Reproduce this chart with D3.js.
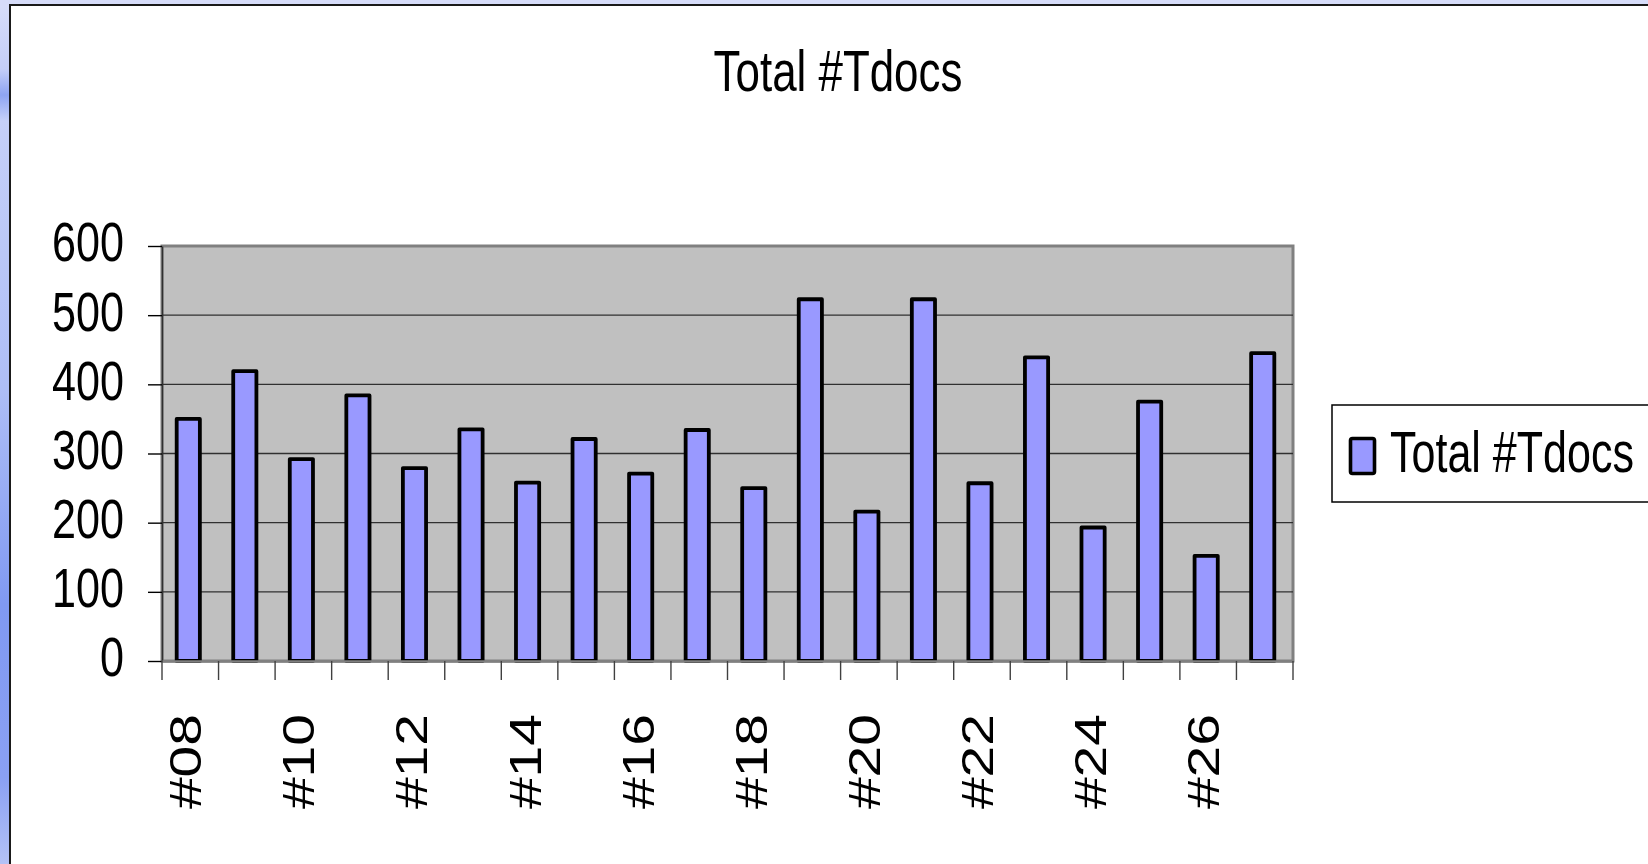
<!DOCTYPE html>
<html>
<head>
<meta charset="utf-8">
<script src="https://cdn.jsdelivr.net/npm/d3@7"></script>
<style>
  html, body { margin: 0; padding: 0; background: #ffffff; overflow: hidden; }
  svg { display: block; font-family: "Liberation Sans", Arial, sans-serif; }
</style>
</head>
<body>
<svg id="chart" width="1648" height="864"></svg>
<script>
const categories = ['#08', '#09', '#10', '#11', '#12', '#13', '#14', '#15', '#16', '#17',
                    '#18', '#19', '#20', '#21', '#22', '#23', '#24', '#25', '#26', '#27']
const totals = [350, 419, 292, 384, 279, 335, 258, 321, 271, 334,
                250, 523, 216, 523, 257, 439, 193, 375, 152, 445]
const yTicks = [0, 100, 200, 300, 400, 500, 600]
const chartTitle = 'Total #Tdocs'
const seriesName = 'Total #Tdocs'

const plot = { left: 162, right: 1293, top: 246, bottom: 661 }
const squash = 0.77   // the original picture is narrower than it is tall

const svg = d3.select('#chart')

const xscale = d3.scaleBand()
    .domain(categories)
    .range([plot.left, plot.right])
    .padding(0)

const yscale = d3.scaleLinear()
    .domain([0, 600])
    .range([plot.bottom, plot.top])

const addBackground = () => {
    const grad = svg.append('defs').append('linearGradient')
        .attr('id', 'slideBg')
        .attr('x1', 0).attr('y1', 0).attr('x2', 0).attr('y2', 1)
    const stops = [[0, '#d8def9'], [0.08, '#c4cef8'], [0.11, '#8ea4f2'], [0.14, '#c6d0f8'],
                   [0.45, '#aebef6'], [0.7, '#8099f2'], [0.9, '#8aa0f3'], [1, '#b4c2f6']]
    stops.forEach(s => grad.append('stop').attr('offset', s[0]).attr('stop-color', s[1]))

    svg.append('rect')
        .attr('width', 1648).attr('height', 864)
        .attr('fill', 'url(#slideBg)')
    svg.append('rect')
        .attr('x', 0).attr('y', 0).attr('width', 1648).attr('height', 6)
        .attr('fill', '#d6dcf9')

    // chart frame
    svg.append('rect')
        .attr('x', 10).attr('y', 5)
        .attr('width', 1700).attr('height', 900)
        .attr('fill', '#ffffff')
        .style('stroke', '#1a1a1a')
        .style('stroke-width', 2)
}

const addPlotArea = () => {
    svg.append('rect')
        .attr('x', plot.left).attr('y', plot.top)
        .attr('width', plot.right - plot.left)
        .attr('height', plot.bottom - plot.top)
        .attr('fill', '#c0c0c0')
        .style('stroke', '#808080')
        .style('stroke-width', 3)
}

const addGridLines = () => {
    svg.append('g')
        .selectAll('line')
        .data(yTicks.filter(d => d > 0 && d < 600))
        .join('line')
        .attr('x1', plot.left).attr('x2', plot.right)
        .attr('y1', d => yscale(d)).attr('y2', d => yscale(d))
        .style('stroke', '#303030')
        .style('stroke-width', 1.4)
}

const addBars = () => {
    const bw = xscale.bandwidth() * 0.41
    svg.append('g')
        .selectAll('rect')
        .data(totals)
        .join('rect')
        .attr('x', (d, i) => xscale(categories[i]) + (xscale.bandwidth() - bw) / 2 - 2)
        .attr('y', d => yscale(d))
        .attr('width', bw)
        .attr('height', d => yscale(0) - yscale(d))
        .attr('fill', '#9999ff')
        .style('stroke', '#000000')
        .style('stroke-width', 3.8)
        .style('stroke-linejoin', 'round')
}

const addAxes = () => {
    //yscale
    const yAxis = d3.axisLeft(yscale)
        .tickValues(yTicks)
        .tickSize(14)
        .tickSizeOuter(0)

    const gy = svg.append('g')
        .attr('transform', `translate(${plot.left}, 0)`)
        .call(yAxis)
    gy.select('.domain').style('stroke', '#303030').style('stroke-width', 1.5)
    gy.selectAll('.tick line').style('stroke', '#000').style('stroke-width', 1.4)
    gy.selectAll('.tick text')
        .attr('x', null)
        .attr('dy', '0.32em')
        .attr('transform', `translate(-38, -3) scale(${squash}, 1)`)
        .attr('fill', '#000')
        .style('font-size', '56px')
        .style('font-family', '"Liberation Sans", Arial, sans-serif')

    //xscale: ticks sit on the category boundaries
    const xAxis = d3.axisBottom(xscale)
        .tickSize(0)
        .tickFormat((d, i) => i % 2 === 0 ? d : '')

    const gx = svg.append('g')
        .attr('transform', `translate(0, ${plot.bottom})`)
        .call(xAxis)
    gx.select('.domain').style('stroke', '#808080').style('stroke-width', 2.5)
    gx.selectAll('.tick text')
        .attr('y', null)
        .attr('dy', null)
        .attr('text-anchor', 'end')
        .attr('transform', `translate(11, 53) scale(${squash}, 1) rotate(-90)`)
        .attr('fill', '#000')
        .style('font-size', '57px')
        .style('font-family', '"Liberation Sans", Arial, sans-serif')

    const bounds = categories.map(c => xscale(c)).concat([plot.right])
    gx.append('g')
        .selectAll('line')
        .data(bounds)
        .join('line')
        .attr('x1', d => d).attr('x2', d => d)
        .attr('y1', 0).attr('y2', 19)
        .style('stroke', '#404040')
        .style('stroke-width', 1.4)
}

const addText = () => {
    svg.append('text')
        .text(chartTitle)
        .attr('text-anchor', 'middle')
        .attr('transform', `translate(838, 91) scale(${squash}, 1)`)
        .style('font-size', '57px')
        .attr('fill', '#000')
}

const addLegend = () => {
    const lg = svg.append('g')
    lg.append('rect')
        .attr('x', 1332).attr('y', 405)
        .attr('width', 400).attr('height', 97)
        .attr('fill', '#ffffff')
        .style('stroke', '#000')
        .style('stroke-width', 1.5)
    lg.append('rect')
        .attr('x', 1350.5).attr('y', 438.5)
        .attr('width', 24).attr('height', 35)
        .attr('rx', 2)
        .attr('fill', '#9999ff')
        .style('stroke', '#000')
        .style('stroke-width', 3.6)
    lg.append('text')
        .text(seriesName)
        .attr('transform', `translate(1390, 472) scale(0.755, 1)`)
        .style('font-size', '57px')
        .attr('fill', '#000')
}

addBackground()
addPlotArea()
addGridLines()
addBars()
addAxes()
addText()
addLegend()
</script>
</body>
</html>
